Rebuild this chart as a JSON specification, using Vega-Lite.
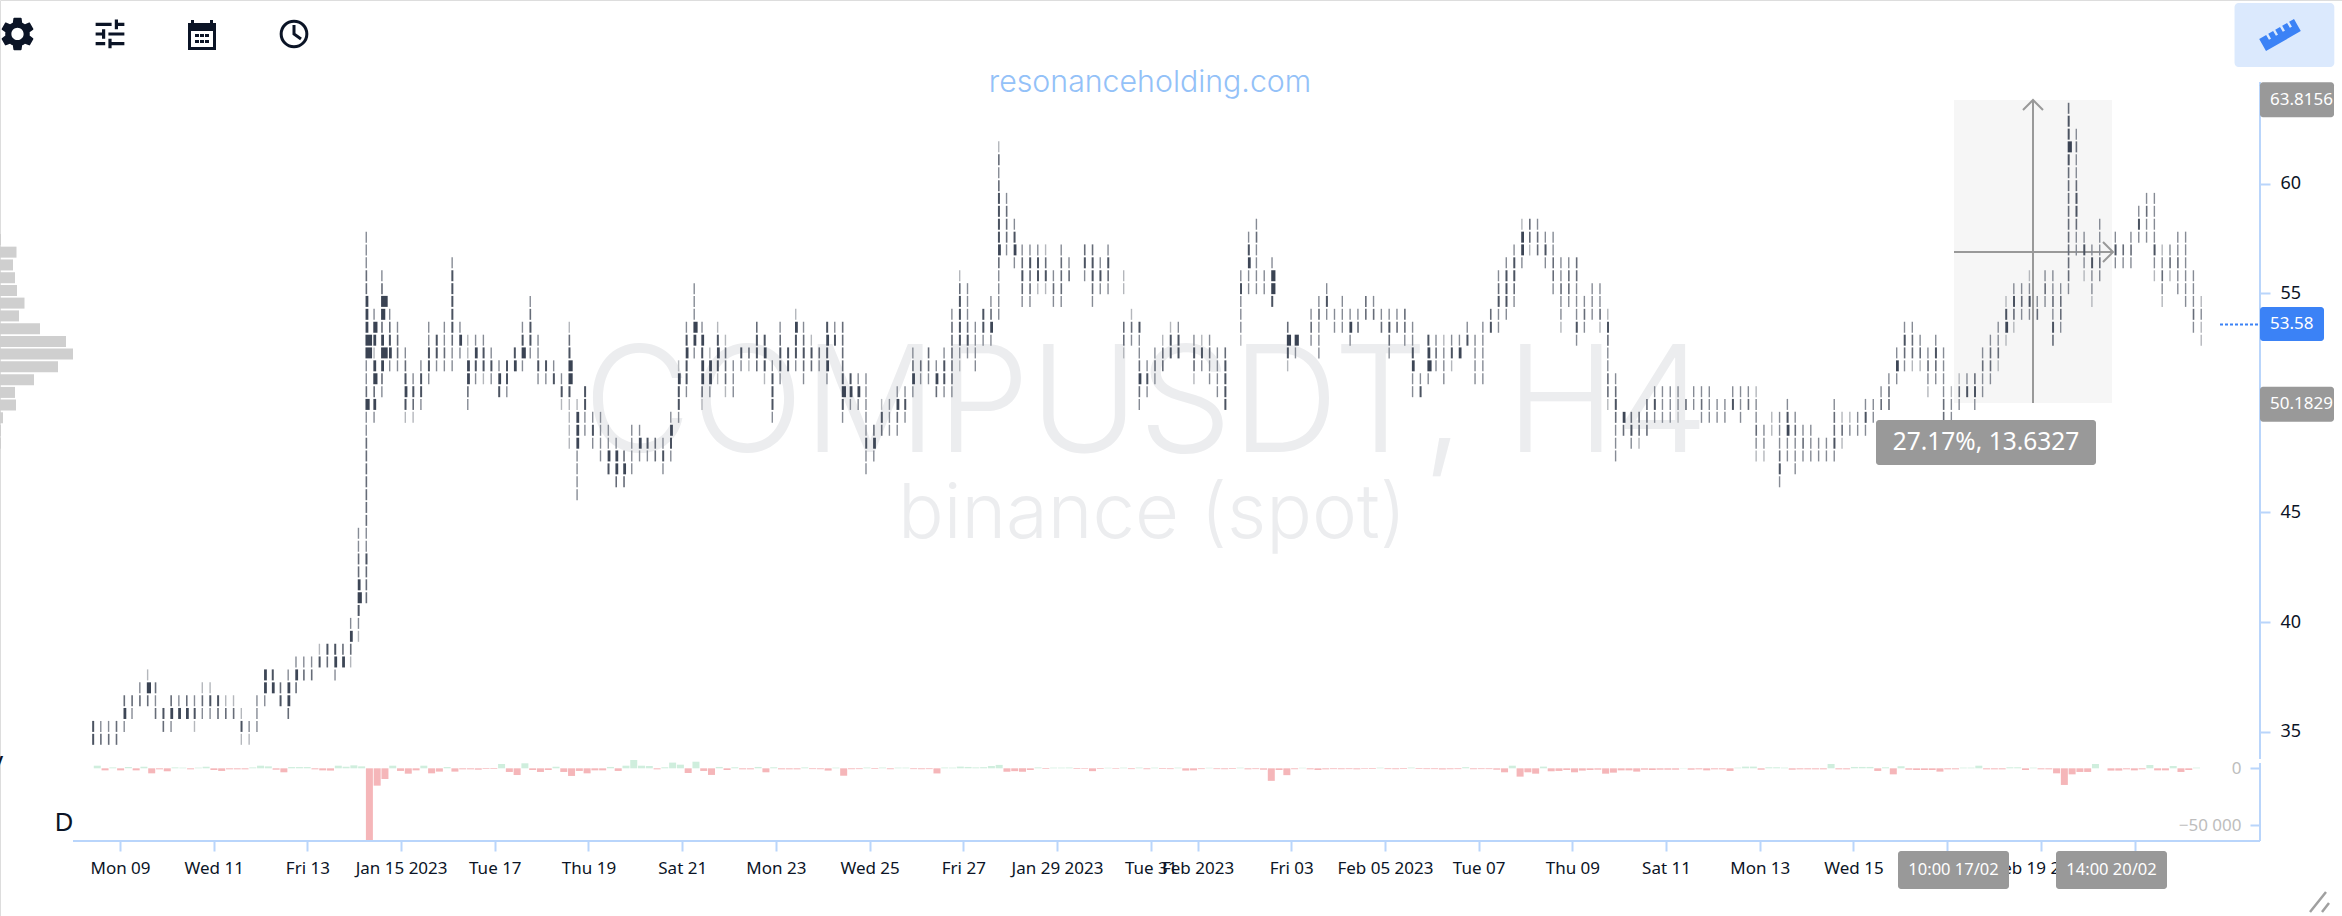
{"$schema":"https://vega.github.io/schema/vega-lite/v6.json","width":2342,"height":916,"autosize":"none","padding":0,"background":"#ffffff",
"datasets":{"candles":[
{"t":"2023-01-08T10:00Z","d":2300,"p":[35.24,34.65],"w":[4,4]},
{"t":"2023-01-08T14:00Z","d":-1800,"p":[35.24,34.65],"w":[2,3]},
{"t":"2023-01-08T18:00Z","d":800,"p":[35.24,34.65],"w":[2,3]},
{"t":"2023-01-08T22:00Z","d":-1800,"p":[35.24,34.65],"w":[3,3]},
{"t":"2023-01-09T02:00Z","d":1100,"p":[36.41,35.83,35.24],"w":[3,5,2]},
{"t":"2023-01-09T06:00Z","d":-1800,"p":[36.41,35.83],"w":[3,2]},
{"t":"2023-01-09T10:00Z","d":1400,"p":[37,36.41],"w":[2,3]},
{"t":"2023-01-09T14:00Z","d":-4400,"p":[37.59,37,36.41],"w":[1,6,3]},
{"t":"2023-01-09T18:00Z","d":-900,"p":[37,36.41,35.83],"w":[3,2,3]},
{"t":"2023-01-09T22:00Z","d":-2600,"p":[35.83,35.24],"w":[4,3]},
{"t":"2023-01-10T02:00Z","d":800,"p":[36.41,35.83,35.24],"w":[3,5,2]},
{"t":"2023-01-10T06:00Z","d":600,"p":[36.41,35.83],"w":[2,5]},
{"t":"2023-01-10T10:00Z","d":-900,"p":[36.41,35.83],"w":[3,5]},
{"t":"2023-01-10T14:00Z","d":600,"p":[36.41,35.83,35.24],"w":[2,4,1]},
{"t":"2023-01-10T18:00Z","d":1400,"p":[37,36.41,35.83],"w":[1,3,2]},
{"t":"2023-01-10T22:00Z","d":-1500,"p":[37,36.41,35.83],"w":[1,4,2]},
{"t":"2023-01-11T02:00Z","d":-2300,"p":[36.41,35.83],"w":[4,3]},
{"t":"2023-01-11T06:00Z","d":-900,"p":[36.41,35.83],"w":[1,3]},
{"t":"2023-01-11T10:00Z","d":-900,"p":[36.41,35.83],"w":[1,3]},
{"t":"2023-01-11T14:00Z","d":-900,"p":[35.83,35.24,34.65],"w":[1,4,1]},
{"t":"2023-01-11T18:00Z","d":800,"p":[35.24,34.65],"w":[2,1]},
{"t":"2023-01-11T22:00Z","d":2300,"p":[36.41,35.83,35.24],"w":[2,2,2]},
{"t":"2023-01-12T02:00Z","d":1700,"p":[37.59,37,36.41],"w":[5,5,2]},
{"t":"2023-01-12T06:00Z","d":-1200,"p":[37.59,37],"w":[4,5]},
{"t":"2023-01-12T10:00Z","d":-3500,"p":[37,36.41],"w":[3,4]},
{"t":"2023-01-12T14:00Z","d":1100,"p":[37.59,37,36.41,35.83],"w":[2,5,5,3]},
{"t":"2023-01-12T18:00Z","d":1100,"p":[38.18,37.59,37],"w":[2,5,3]},
{"t":"2023-01-12T22:00Z","d":1100,"p":[38.18,37.59],"w":[2,3]},
{"t":"2023-01-13T02:00Z","d":-900,"p":[38.18,37.59],"w":[2,3]},
{"t":"2023-01-13T06:00Z","d":-1800,"p":[38.76,38.18],"w":[1,4]},
{"t":"2023-01-13T10:00Z","d":-2000,"p":[38.76,38.18],"w":[4,3]},
{"t":"2023-01-13T14:00Z","d":2300,"p":[38.76,38.18,37.59],"w":[4,5,2]},
{"t":"2023-01-13T18:00Z","d":1400,"p":[38.76,38.18],"w":[3,5]},
{"t":"2023-01-13T22:00Z","d":2600,"p":[39.94,39.35,38.76,38.18],"w":[2,5,3,1]},
{"t":"2023-01-14T02:00Z","d":1700,"p":[44.05,43.46,42.88,42.29,41.7,41.11,40.53,39.94,39.35],"w":[2,2,3,3,5,6,4,2,1]},
{"t":"2023-01-14T06:00Z","d":-63500,"p":[57.56,56.98,56.39,55.8,55.21,54.63,54.04,53.45,52.86,52.28,51.69,51.1,50.51,49.93,49.34,48.75,48.16,47.58,46.99,46.4,45.81,45.23,44.64,44.05,43.46,42.88,42.29,41.7,41.11],"w":[2,2,2,3,3,5,5,5,7,7,2,2,3,6,2,2,3,3,3,3,3,3,3,2,2,4,3,3,3]},
{"t":"2023-01-14T10:00Z","d":-15200,"p":[54.04,53.45,52.86,52.28,51.69,51.1,50.51,49.93,49.34],"w":[2,6,5,1,5,6,3,5,2]},
{"t":"2023-01-14T14:00Z","d":-9400,"p":[55.8,55.21,54.63,54.04,53.45,52.86,52.28,51.69,51.1,50.51],"w":[2,3,7,6,3,5,7,5,3,2]},
{"t":"2023-01-14T18:00Z","d":2300,"p":[54.04,53.45,52.86,52.28,51.69],"w":[2,3,4,5,2]},
{"t":"2023-01-14T22:00Z","d":-2300,"p":[53.45,52.86,52.28,51.69],"w":[2,3,3,2]},
{"t":"2023-01-15T02:00Z","d":-4700,"p":[52.28,51.69,51.1,50.51,49.93,49.34],"w":[2,3,4,5,4,1]},
{"t":"2023-01-15T06:00Z","d":-1800,"p":[51.1,50.51,49.93,49.34],"w":[2,4,3,1]},
{"t":"2023-01-15T10:00Z","d":2300,"p":[51.69,51.1,50.51,49.93],"w":[2,4,4,2]},
{"t":"2023-01-15T14:00Z","d":-4400,"p":[53.45,52.86,52.28,51.69,51.1],"w":[2,2,4,4,2]},
{"t":"2023-01-15T18:00Z","d":-2900,"p":[52.86,52.28,51.69],"w":[4,4,2]},
{"t":"2023-01-15T22:00Z","d":1100,"p":[53.45,52.86,52.28,51.69],"w":[2,2,3,2]},
{"t":"2023-01-16T02:00Z","d":-2900,"p":[56.39,55.8,55.21,54.63,54.04,53.45,52.86,52.28,51.69],"w":[2,4,4,4,4,4,3,2,2]},
{"t":"2023-01-16T06:00Z","d":-900,"p":[53.45,52.86,52.28],"w":[2,5,2]},
{"t":"2023-01-16T10:00Z","d":-900,"p":[52.86,52.28,51.69,51.1,50.51,49.93],"w":[1,1,5,5,3,2]},
{"t":"2023-01-16T14:00Z","d":-1200,"p":[52.86,52.28,51.69,51.1],"w":[2,5,4,2]},
{"t":"2023-01-16T18:00Z","d":-600,"p":[52.86,52.28,51.69,51.1],"w":[2,4,4,1]},
{"t":"2023-01-16T22:00Z","d":-600,"p":[52.28,51.69,51.1],"w":[2,4,2]},
{"t":"2023-01-17T02:00Z","d":3800,"p":[51.69,51.1,50.51],"w":[2,5,4]},
{"t":"2023-01-17T06:00Z","d":-3200,"p":[51.69,51.1,50.51],"w":[4,4,2]},
{"t":"2023-01-17T10:00Z","d":-5900,"p":[52.28,51.69],"w":[4,5]},
{"t":"2023-01-17T14:00Z","d":4400,"p":[53.45,52.86,52.28,51.69],"w":[2,4,6,2]},
{"t":"2023-01-17T18:00Z","d":-1500,"p":[54.63,54.04,53.45,52.86,52.28],"w":[2,3,4,4,2]},
{"t":"2023-01-17T22:00Z","d":-3200,"p":[52.86,52.28,51.69,51.1],"w":[2,2,4,2]},
{"t":"2023-01-18T02:00Z","d":-1500,"p":[51.69,51.1],"w":[4,2]},
{"t":"2023-01-18T06:00Z","d":1400,"p":[51.69,51.1],"w":[2,4]},
{"t":"2023-01-18T10:00Z","d":-3200,"p":[51.1,50.51,49.93],"w":[2,4,1]},
{"t":"2023-01-18T14:00Z","d":-6700,"p":[53.45,52.86,52.28,51.69,51.1,50.51,49.93,49.34,48.75,48.16],"w":[1,3,4,6,6,4,1,1,1,1]},
{"t":"2023-01-18T18:00Z","d":-2300,"p":[49.93,49.34,48.75,48.16,47.58,46.99,46.4,45.81],"w":[1,5,5,5,2,2,2,2]},
{"t":"2023-01-18T22:00Z","d":-4400,"p":[50.51,49.93,49.34,48.75],"w":[4,4,2,2]},
{"t":"2023-01-19T02:00Z","d":-1800,"p":[49.34,48.75,48.16],"w":[2,4,2]},
{"t":"2023-01-19T06:00Z","d":-1800,"p":[49.34,48.75,48.16,47.58],"w":[2,2,2,2]},
{"t":"2023-01-19T10:00Z","d":1200,"p":[48.75,48.16,47.58,46.99],"w":[2,2,5,4]},
{"t":"2023-01-19T14:00Z","d":-2300,"p":[48.16,47.58,46.99,46.4],"w":[2,5,5,3]},
{"t":"2023-01-19T18:00Z","d":2300,"p":[47.58,46.99,46.4],"w":[3,5,3]},
{"t":"2023-01-19T22:00Z","d":7300,"p":[48.75,48.16,47.58,46.99],"w":[2,2,2,2]},
{"t":"2023-01-20T02:00Z","d":2300,"p":[48.75,48.16,47.58],"w":[2,5,2]},
{"t":"2023-01-20T06:00Z","d":2000,"p":[48.16,47.58],"w":[4,2]},
{"t":"2023-01-20T10:00Z","d":-900,"p":[48.16,47.58],"w":[3,3]},
{"t":"2023-01-20T14:00Z","d":900,"p":[48.16,47.58,46.99],"w":[2,4,2]},
{"t":"2023-01-20T18:00Z","d":5000,"p":[49.34,48.75,48.16,47.58],"w":[2,5,4,2]},
{"t":"2023-01-20T22:00Z","d":3200,"p":[51.69,51.1,50.51,49.93,49.34],"w":[1,5,4,4,2]},
{"t":"2023-01-21T02:00Z","d":-4100,"p":[53.45,52.86,52.28,51.69,51.1,50.51],"w":[2,4,5,4,4,2]},
{"t":"2023-01-21T06:00Z","d":5800,"p":[55.21,54.63,54.04,53.45,52.86,52.28],"w":[2,2,2,6,5,2]},
{"t":"2023-01-21T10:00Z","d":-2300,"p":[53.45,52.86,52.28,51.69,51.1,50.51,49.93],"w":[2,5,4,5,5,3,1]},
{"t":"2023-01-21T14:00Z","d":-5800,"p":[52.28,51.69,51.1,50.51],"w":[1,5,5,2]},
{"t":"2023-01-21T18:00Z","d":1200,"p":[53.45,52.86,52.28,51.69,51.1],"w":[1,4,5,4,1]},
{"t":"2023-01-21T22:00Z","d":-1500,"p":[52.86,52.28,51.69,51.1,50.51],"w":[1,3,3,3,1]},
{"t":"2023-01-22T02:00Z","d":900,"p":[51.69,51.1,50.51],"w":[2,2,2]},
{"t":"2023-01-22T06:00Z","d":-900,"p":[52.28,51.69],"w":[4,2]},
{"t":"2023-01-22T10:00Z","d":-900,"p":[52.28,51.69],"w":[3,1]},
{"t":"2023-01-22T14:00Z","d":1200,"p":[53.45,52.86,52.28,51.69],"w":[3,4,4,3]},
{"t":"2023-01-22T18:00Z","d":-3500,"p":[52.86,52.28,51.69,51.1],"w":[4,5,4,1]},
{"t":"2023-01-22T22:00Z","d":900,"p":[51.69,51.1,50.51,49.93,49.34],"w":[2,4,4,4,2]},
{"t":"2023-01-23T02:00Z","d":-900,"p":[53.45,52.86,52.28,51.69,51.1],"w":[2,3,4,4,2]},
{"t":"2023-01-23T06:00Z","d":-900,"p":[52.28,51.69],"w":[4,4]},
{"t":"2023-01-23T10:00Z","d":-900,"p":[54.04,53.45,52.86,52.28,51.69],"w":[1,5,4,4,2]},
{"t":"2023-01-23T14:00Z","d":800,"p":[53.45,52.86,52.28,51.69,51.1],"w":[2,3,4,3,2]},
{"t":"2023-01-23T18:00Z","d":-700,"p":[52.86,52.28,51.69],"w":[1,4,3]},
{"t":"2023-01-23T22:00Z","d":-800,"p":[52.28,51.69],"w":[3,2]},
{"t":"2023-01-24T02:00Z","d":-2000,"p":[53.45,52.86,52.28,51.69,51.1],"w":[4,5,4,5,2]},
{"t":"2023-01-24T06:00Z","d":600,"p":[53.45,52.86],"w":[2,4]},
{"t":"2023-01-24T10:00Z","d":-6500,"p":[53.45,52.86,52.28,51.69,51.1,50.51,49.93,49.34],"w":[3,3,3,3,4,6,4,2]},
{"t":"2023-01-24T14:00Z","d":-800,"p":[51.1,50.51,49.93],"w":[4,5,2]},
{"t":"2023-01-24T18:00Z","d":-700,"p":[51.1,50.51,49.93],"w":[2,5,2]},
{"t":"2023-01-24T22:00Z","d":700,"p":[51.1,50.51,49.93,49.34,48.75,48.16,47.58,46.99],"w":[2,2,2,2,2,4,2,2]},
{"t":"2023-01-25T02:00Z","d":-600,"p":[48.75,48.16,47.58],"w":[3,5,2]},
{"t":"2023-01-25T06:00Z","d":700,"p":[49.93,49.34,48.75],"w":[1,4,3]},
{"t":"2023-01-25T10:00Z","d":-800,"p":[49.93,49.34,48.75],"w":[2,2,2]},
{"t":"2023-01-25T14:00Z","d":600,"p":[50.51,49.93,49.34,48.75],"w":[2,5,3,2]},
{"t":"2023-01-25T18:00Z","d":600,"p":[50.51,49.93,49.34],"w":[2,4,2]},
{"t":"2023-01-25T22:00Z","d":-700,"p":[52.28,51.69,51.1,50.51],"w":[2,3,5,2]},
{"t":"2023-01-26T02:00Z","d":-800,"p":[51.69,51.1],"w":[3,2]},
{"t":"2023-01-26T06:00Z","d":-700,"p":[52.28,51.69,51.1],"w":[3,3,2]},
{"t":"2023-01-26T10:00Z","d":-4500,"p":[51.69,51.1,50.51],"w":[2,5,3]},
{"t":"2023-01-26T14:00Z","d":700,"p":[52.28,51.69,51.1,50.51],"w":[2,4,4,2]},
{"t":"2023-01-26T18:00Z","d":600,"p":[54.04,53.45,52.86,52.28,51.69,51.1,50.51],"w":[2,3,3,3,3,3,2]},
{"t":"2023-01-26T22:00Z","d":1500,"p":[55.8,55.21,54.63,54.04,53.45,52.86,52.28,51.69],"w":[1,3,4,4,4,4,2,1]},
{"t":"2023-01-27T02:00Z","d":1200,"p":[55.21,54.63,54.04,53.45,52.86,52.28],"w":[2,2,2,3,4,2]},
{"t":"2023-01-27T06:00Z","d":800,"p":[53.45,52.86,52.28,51.69],"w":[2,2,2,2]},
{"t":"2023-01-27T10:00Z","d":1000,"p":[54.04,53.45,52.86],"w":[4,4,2]},
{"t":"2023-01-27T14:00Z","d":2000,"p":[54.63,54.04,53.45,52.86],"w":[2,3,5,2]},
{"t":"2023-01-27T18:00Z","d":3000,"p":[61.68,61.09,60.5,59.91,59.33,58.74,58.15,57.56,56.98,56.39,55.8,55.21,54.63,54.04],"w":[1,3,2,3,4,4,4,4,5,3,2,2,2,2]},
{"t":"2023-01-27T22:00Z","d":-3000,"p":[59.33,58.74,58.15,57.56,56.98],"w":[2,3,3,3,2]},
{"t":"2023-01-28T02:00Z","d":-2500,"p":[58.15,57.56,56.98,56.39],"w":[2,4,5,2]},
{"t":"2023-01-28T06:00Z","d":-3000,"p":[56.98,56.39,55.8,55.21,54.63],"w":[2,3,4,3,2]},
{"t":"2023-01-28T10:00Z","d":-1500,"p":[56.98,56.39,55.8,55.21,54.63],"w":[2,4,3,3,2]},
{"t":"2023-01-28T14:00Z","d":800,"p":[56.98,56.39,55.8,55.21],"w":[2,4,4,1]},
{"t":"2023-01-28T18:00Z","d":-600,"p":[56.98,56.39,55.8,55.21],"w":[1,3,4,1]},
{"t":"2023-01-28T22:00Z","d":600,"p":[55.8,55.21,54.63],"w":[2,3,2]},
{"t":"2023-01-29T02:00Z","d":600,"p":[56.98,56.39,55.8,55.21,54.63],"w":[2,3,3,3,2]},
{"t":"2023-01-29T06:00Z","d":700,"p":[56.39,55.8],"w":[2,3]},
{"t":"2023-01-29T10:00Z","d":-600,"p":[],"w":[]},
{"t":"2023-01-29T14:00Z","d":-500,"p":[56.98,56.39,55.8],"w":[3,4,2]},
{"t":"2023-01-29T18:00Z","d":-2500,"p":[56.98,56.39,55.8,55.21,54.63],"w":[3,4,4,3,2]},
{"t":"2023-01-29T22:00Z","d":-600,"p":[56.39,55.8,55.21],"w":[2,4,2]},
{"t":"2023-01-30T02:00Z","d":500,"p":[56.98,56.39,55.8,55.21],"w":[2,4,3,2]},
{"t":"2023-01-30T06:00Z","d":-500,"p":[],"w":[]},
{"t":"2023-01-30T10:00Z","d":600,"p":[55.8,55.21,53.45,52.86,52.28],"w":[1,1,3,3,1]},
{"t":"2023-01-30T14:00Z","d":-700,"p":[54.04,53.45,52.86],"w":[1,3,2]},
{"t":"2023-01-30T18:00Z","d":700,"p":[53.45,52.86,52.28,51.69,51.1,50.51,49.93],"w":[4,2,2,3,5,3,2]},
{"t":"2023-01-30T22:00Z","d":-800,"p":[51.69,51.1,50.51],"w":[2,4,2]},
{"t":"2023-01-31T02:00Z","d":600,"p":[52.28,51.69,51.1],"w":[2,3,2]},
{"t":"2023-01-31T06:00Z","d":-600,"p":[52.86,52.28,51.69],"w":[1,3,3]},
{"t":"2023-01-31T10:00Z","d":-700,"p":[53.45,52.86,52.28],"w":[1,4,4]},
{"t":"2023-01-31T14:00Z","d":600,"p":[53.45,52.86,52.28],"w":[2,4,4]},
{"t":"2023-01-31T18:00Z","d":-2000,"p":[],"w":[]},
{"t":"2023-01-31T22:00Z","d":-1800,"p":[52.86,52.28,51.69,51.1],"w":[2,4,3,1]},
{"t":"2023-02-01T02:00Z","d":-700,"p":[52.86,52.28,51.69],"w":[1,4,2]},
{"t":"2023-02-01T06:00Z","d":500,"p":[52.86,52.28,51.69,51.1],"w":[2,3,2,2]},
{"t":"2023-02-01T10:00Z","d":-700,"p":[52.28,51.69,51.1,50.51],"w":[2,2,2,2]},
{"t":"2023-02-01T14:00Z","d":-800,"p":[52.28,51.69,51.1,50.51,49.93],"w":[3,4,4,4,4]},
{"t":"2023-02-01T18:00Z","d":-600,"p":[],"w":[]},
{"t":"2023-02-01T22:00Z","d":600,"p":[55.8,55.21,54.63,54.04,53.45,52.86],"w":[2,4,2,2,2,1]},
{"t":"2023-02-02T02:00Z","d":-900,"p":[57.56,56.98,56.39,55.8,55.21],"w":[2,4,5,2,2]},
{"t":"2023-02-02T06:00Z","d":-700,"p":[58.15,57.56,56.98,56.39,55.8,55.21],"w":[2,3,2,2,2,2]},
{"t":"2023-02-02T10:00Z","d":-1200,"p":[55.8,55.21],"w":[2,2]},
{"t":"2023-02-02T14:00Z","d":-11000,"p":[56.39,55.8,55.21,54.63],"w":[2,6,6,4]},
{"t":"2023-02-02T18:00Z","d":-1500,"p":[],"w":[]},
{"t":"2023-02-02T22:00Z","d":-6000,"p":[53.45,52.86,52.28,51.69],"w":[3,6,4,1]},
{"t":"2023-02-03T02:00Z","d":-800,"p":[52.86,52.28],"w":[6,2]},
{"t":"2023-02-03T06:00Z","d":500,"p":[],"w":[]},
{"t":"2023-02-03T10:00Z","d":-900,"p":[54.04,53.45,52.86],"w":[2,3,2]},
{"t":"2023-02-03T14:00Z","d":-1500,"p":[54.63,54.04,53.45,52.86,52.28],"w":[2,3,2,2,2]},
{"t":"2023-02-03T18:00Z","d":-900,"p":[55.21,54.63,54.04],"w":[2,4,2]},
{"t":"2023-02-03T22:00Z","d":-700,"p":[54.04,53.45],"w":[2,2]},
{"t":"2023-02-04T02:00Z","d":-800,"p":[54.63,54.04,53.45],"w":[2,2,2]},
{"t":"2023-02-04T06:00Z","d":-700,"p":[54.04,53.45,52.86],"w":[2,5,2]},
{"t":"2023-02-04T10:00Z","d":-900,"p":[54.04,53.45],"w":[2,3]},
{"t":"2023-02-04T14:00Z","d":-500,"p":[54.63,54.04],"w":[3,3]},
{"t":"2023-02-04T18:00Z","d":-600,"p":[54.63,54.04],"w":[2,3]},
{"t":"2023-02-04T22:00Z","d":600,"p":[54.04,53.45],"w":[2,3]},
{"t":"2023-02-05T02:00Z","d":-700,"p":[54.04,53.45,52.86,52.28],"w":[2,4,3,2]},
{"t":"2023-02-05T06:00Z","d":-800,"p":[54.04,53.45],"w":[2,3]},
{"t":"2023-02-05T10:00Z","d":-600,"p":[54.04,53.45,52.86],"w":[3,3,2]},
{"t":"2023-02-05T14:00Z","d":700,"p":[53.45,52.86,52.28,51.69,51.1,50.51],"w":[2,2,4,5,2,2]},
{"t":"2023-02-05T18:00Z","d":-600,"p":[51.1,50.51],"w":[2,4]},
{"t":"2023-02-05T22:00Z","d":-700,"p":[52.86,52.28,51.69,51.1],"w":[4,5,6,2]},
{"t":"2023-02-06T02:00Z","d":-700,"p":[52.86,52.28,51.69],"w":[2,3,2]},
{"t":"2023-02-06T06:00Z","d":-1000,"p":[52.86,52.28,51.69,51.1],"w":[1,2,2,2]},
{"t":"2023-02-06T10:00Z","d":-800,"p":[52.86,52.28,51.69],"w":[2,4,1]},
{"t":"2023-02-06T14:00Z","d":-700,"p":[52.86,52.28],"w":[2,5]},
{"t":"2023-02-06T18:00Z","d":1000,"p":[53.45,52.86],"w":[2,4]},
{"t":"2023-02-06T22:00Z","d":-800,"p":[52.86,52.28,51.69,51.1],"w":[2,2,2,2]},
{"t":"2023-02-07T02:00Z","d":-700,"p":[53.45,52.86,52.28,51.69,51.1],"w":[2,2,2,2,2]},
{"t":"2023-02-07T06:00Z","d":-700,"p":[54.04,53.45],"w":[3,4]},
{"t":"2023-02-07T10:00Z","d":-1200,"p":[55.8,55.21,54.63,54.04,53.45],"w":[2,3,4,2,2]},
{"t":"2023-02-07T14:00Z","d":-3500,"p":[56.39,55.8,55.21,54.63,54.04],"w":[2,4,4,4,2]},
{"t":"2023-02-07T18:00Z","d":2300,"p":[56.98,56.39,55.8,55.21,54.63],"w":[2,4,4,3,2]},
{"t":"2023-02-07T22:00Z","d":-7300,"p":[58.15,57.56,56.98,56.39],"w":[1,5,5,2]},
{"t":"2023-02-08T02:00Z","d":-3500,"p":[58.15,57.56,56.98],"w":[3,3,1]},
{"t":"2023-02-08T06:00Z","d":-4700,"p":[58.15,57.56,56.98],"w":[2,3,3]},
{"t":"2023-02-08T10:00Z","d":1500,"p":[57.56,56.98,56.39],"w":[2,4,2]},
{"t":"2023-02-08T14:00Z","d":-2600,"p":[57.56,56.98,56.39,55.8,55.21],"w":[2,2,3,3,2]},
{"t":"2023-02-08T18:00Z","d":-2300,"p":[56.39,55.8,55.21,54.63,54.04,53.45],"w":[2,2,3,2,2,1]},
{"t":"2023-02-08T22:00Z","d":-1500,"p":[56.39,55.8,55.21,54.63],"w":[2,3,3,2]},
{"t":"2023-02-09T02:00Z","d":-3500,"p":[56.39,55.8,55.21,54.63,54.04,53.45,52.86],"w":[3,3,2,2,2,4,2]},
{"t":"2023-02-09T06:00Z","d":-2000,"p":[54.63,54.04,53.45],"w":[2,3,2]},
{"t":"2023-02-09T10:00Z","d":-1500,"p":[55.21,54.63,54.04],"w":[2,2,2]},
{"t":"2023-02-09T14:00Z","d":-1200,"p":[55.21,54.63,54.04,53.45],"w":[2,2,3,1]},
{"t":"2023-02-09T18:00Z","d":-4700,"p":[54.04,53.45,52.86,52.28,51.69,51.1,50.51,49.93],"w":[1,4,3,2,2,3,3,1]},
{"t":"2023-02-09T22:00Z","d":-3800,"p":[51.1,50.51,49.93,49.34,48.75,48.16,47.58],"w":[2,3,4,3,2,2,2]},
{"t":"2023-02-10T02:00Z","d":-1800,"p":[49.34,48.75],"w":[5,3]},
{"t":"2023-02-10T06:00Z","d":-1800,"p":[49.34,48.75,48.16],"w":[3,4,2]},
{"t":"2023-02-10T10:00Z","d":-2900,"p":[49.34,48.75,48.16],"w":[3,3,1]},
{"t":"2023-02-10T14:00Z","d":-1200,"p":[49.93,49.34,48.75],"w":[3,3,3]},
{"t":"2023-02-10T18:00Z","d":-1500,"p":[50.51,49.93,49.34],"w":[2,4,2]},
{"t":"2023-02-10T22:00Z","d":-1200,"p":[50.51,49.93,49.34],"w":[2,2,2]},
{"t":"2023-02-11T02:00Z","d":-1200,"p":[50.51,49.93,49.34],"w":[2,2,2]},
{"t":"2023-02-11T06:00Z","d":-1200,"p":[50.51,49.93,49.34],"w":[2,2,1]},
{"t":"2023-02-11T10:00Z","d":300,"p":[49.93],"w":[3]},
{"t":"2023-02-11T14:00Z","d":-1200,"p":[50.51,49.93],"w":[2,2]},
{"t":"2023-02-11T18:00Z","d":-900,"p":[50.51,49.93,49.34],"w":[2,3,2]},
{"t":"2023-02-11T22:00Z","d":-1800,"p":[50.51,49.93,49.34],"w":[2,2,2]},
{"t":"2023-02-12T02:00Z","d":-900,"p":[49.93,49.34],"w":[2,2]},
{"t":"2023-02-12T06:00Z","d":-900,"p":[49.93,49.34],"w":[2,2]},
{"t":"2023-02-12T10:00Z","d":-2300,"p":[50.51,49.93],"w":[2,4]},
{"t":"2023-02-12T14:00Z","d":600,"p":[50.51,49.93,49.34],"w":[2,2,2]},
{"t":"2023-02-12T18:00Z","d":1500,"p":[50.51,49.93],"w":[2,3]},
{"t":"2023-02-12T22:00Z","d":1500,"p":[50.51,49.93,49.34,48.75,48.16,47.58],"w":[1,2,2,3,2,1]},
{"t":"2023-02-13T02:00Z","d":-1200,"p":[48.75,48.16,47.58],"w":[2,2,1]},
{"t":"2023-02-13T06:00Z","d":900,"p":[49.34,48.75],"w":[1,1]},
{"t":"2023-02-13T10:00Z","d":900,"p":[49.34,48.75,48.16,47.58,46.99,46.4],"w":[2,2,2,3,4,2]},
{"t":"2023-02-13T14:00Z","d":600,"p":[49.93,49.34,48.75,48.16,47.58],"w":[2,4,5,2,2]},
{"t":"2023-02-13T18:00Z","d":-1200,"p":[49.34,48.75,48.16,47.58,46.99],"w":[2,3,2,2,2]},
{"t":"2023-02-13T22:00Z","d":-900,"p":[48.75,48.16,47.58],"w":[2,3,2]},
{"t":"2023-02-14T02:00Z","d":-900,"p":[48.75,48.16,47.58],"w":[2,2,2]},
{"t":"2023-02-14T06:00Z","d":-900,"p":[48.16,47.58],"w":[2,2]},
{"t":"2023-02-14T10:00Z","d":-900,"p":[48.16,47.58],"w":[2,2]},
{"t":"2023-02-14T14:00Z","d":3800,"p":[49.93,49.34,48.75,48.16,47.58],"w":[2,3,3,4,2]},
{"t":"2023-02-14T18:00Z","d":-900,"p":[49.34,48.75,48.16],"w":[1,3,1]},
{"t":"2023-02-14T22:00Z","d":-900,"p":[49.34,48.75],"w":[1,2]},
{"t":"2023-02-15T02:00Z","d":1200,"p":[49.34,48.75],"w":[2,2]},
{"t":"2023-02-15T06:00Z","d":1200,"p":[49.93,49.34,48.75],"w":[2,4,2]},
{"t":"2023-02-15T10:00Z","d":1200,"p":[49.93,49.34],"w":[2,2]},
{"t":"2023-02-15T14:00Z","d":-2300,"p":[50.51,49.93],"w":[2,3]},
{"t":"2023-02-15T18:00Z","d":900,"p":[51.1,50.51,49.93],"w":[2,3,3]},
{"t":"2023-02-15T22:00Z","d":-5300,"p":[52.28,51.69,51.1],"w":[2,5,2]},
{"t":"2023-02-16T02:00Z","d":1800,"p":[53.45,52.86,52.28,51.69],"w":[2,4,3,2]},
{"t":"2023-02-16T06:00Z","d":-1200,"p":[53.45,52.86,52.28,51.69],"w":[2,3,3,1]},
{"t":"2023-02-16T10:00Z","d":-1500,"p":[52.86,52.28,51.69],"w":[2,3,1]},
{"t":"2023-02-16T14:00Z","d":-1500,"p":[52.28,51.69,51.1,50.51],"w":[2,3,2,1]},
{"t":"2023-02-16T18:00Z","d":-1500,"p":[52.86,52.28,51.69,51.1],"w":[2,4,3,2]},
{"t":"2023-02-16T22:00Z","d":-2900,"p":[52.28,51.69,51.1,50.51,49.93,49.34],"w":[2,2,2,2,3,3]},
{"t":"2023-02-17T02:00Z","d":-900,"p":[50.51,49.93,49.34],"w":[1,2,2]},
{"t":"2023-02-17T06:00Z","d":-900,"p":[51.1,50.51,49.93],"w":[1,3,2]},
{"t":"2023-02-17T10:00Z","d":600,"p":[51.1,50.51],"w":[2,4]},
{"t":"2023-02-17T14:00Z","d":600,"p":[51.1,50.51,49.93],"w":[3,4,2]},
{"t":"2023-02-17T18:00Z","d":2300,"p":[52.28,51.69,51.1,50.51],"w":[2,3,2,2]},
{"t":"2023-02-17T22:00Z","d":-900,"p":[52.86,52.28,51.69,51.1],"w":[2,3,3,2]},
{"t":"2023-02-18T02:00Z","d":-900,"p":[53.45,52.86,52.28,51.69],"w":[2,2,3,1]},
{"t":"2023-02-18T06:00Z","d":-900,"p":[54.63,54.04,53.45,52.86],"w":[1,4,5,1]},
{"t":"2023-02-18T10:00Z","d":900,"p":[55.21,54.63,54.04,53.45],"w":[2,4,3,1]},
{"t":"2023-02-18T14:00Z","d":900,"p":[55.21,54.63,54.04],"w":[2,3,2]},
{"t":"2023-02-18T18:00Z","d":-1500,"p":[55.8,55.21,54.63,54.04],"w":[1,2,4,2]},
{"t":"2023-02-18T22:00Z","d":600,"p":[54.63,54.04],"w":[2,3]},
{"t":"2023-02-19T02:00Z","d":-900,"p":[55.8,55.21,54.63],"w":[2,3,2]},
{"t":"2023-02-19T06:00Z","d":-900,"p":[55.8,55.21,54.63,54.04,53.45,52.86],"w":[2,2,3,2,4,3]},
{"t":"2023-02-19T10:00Z","d":-4400,"p":[55.21,54.63,54.04,53.45],"w":[2,3,3,2]},
{"t":"2023-02-19T14:00Z","d":-14600,"p":[63.44,62.85,62.26,61.68,61.09,60.5,59.91,59.33,58.74,58.15,57.56,56.98,56.39,55.8,55.21],"w":[3,4,4,6,4,3,3,3,3,3,3,3,3,3,2]},
{"t":"2023-02-19T18:00Z","d":-5300,"p":[62.26,61.68,61.09,60.5,59.91,59.33,58.74,58.15,57.56,56.98],"w":[2,3,2,2,3,4,4,3,2,2]},
{"t":"2023-02-19T22:00Z","d":-3200,"p":[57.56,56.98,56.39,55.8],"w":[2,4,2,1]},
{"t":"2023-02-20T02:00Z","d":-3200,"p":[56.98,56.39,55.8,55.21,54.63],"w":[2,4,2,2,1]},
{"t":"2023-02-20T06:00Z","d":3800,"p":[58.15,57.56,56.98,56.39,55.8],"w":[2,2,2,3,2]},
{"t":"2023-02-20T10:00Z","d":0,"p":[],"w":[]},
{"t":"2023-02-20T14:00Z","d":-2000,"p":[57.56,56.98,56.39],"w":[2,4,2]},
{"t":"2023-02-20T18:00Z","d":-2000,"p":[56.98,56.39],"w":[3,2]},
{"t":"2023-02-20T22:00Z","d":-900,"p":[57.56,56.98,56.39],"w":[2,3,2]},
{"t":"2023-02-21T02:00Z","d":-1800,"p":[58.74,58.15,57.56],"w":[2,4,2]},
{"t":"2023-02-21T06:00Z","d":-900,"p":[59.33,58.74,58.15,57.56],"w":[2,3,2,2]},
{"t":"2023-02-21T10:00Z","d":2900,"p":[59.33,58.74,58.15,57.56,56.98,56.39,55.8],"w":[2,2,2,2,4,2,1]},
{"t":"2023-02-21T14:00Z","d":-1800,"p":[56.98,56.39,55.8,55.21,54.63],"w":[1,2,3,2,1]},
{"t":"2023-02-21T18:00Z","d":-1800,"p":[56.98,56.39,55.8],"w":[2,3,1]},
{"t":"2023-02-21T22:00Z","d":2000,"p":[57.56,56.98,56.39,55.8,55.21],"w":[2,2,3,2,2]},
{"t":"2023-02-22T02:00Z","d":-3200,"p":[57.56,56.98,56.39,55.8,55.21,54.63],"w":[2,2,2,2,2,2]},
{"t":"2023-02-22T06:00Z","d":-1500,"p":[55.8,55.21,54.63,54.04,53.45],"w":[2,2,2,3,2]},
{"t":"2023-02-22T10:00Z","d":600,"p":[54.63,54.04,53.45,52.86],"w":[1,2,1,1]}
]},
"data":{"name":"candles"},
"layer":[
{"mark":{"type":"bar","size":7},
"encoding":{"x":{"field":"t","type":"temporal","scale":{"type":"utc","domain":[1673001097920,1677320176848]},"axis":null},
"y":{"field":"d","type":"quantitative","scale":{"domain":[-129561,674000],"nice":false,"zero":false},
"axis":{"orient":"left","offset":-2260,"title":null,"grid":false,"domain":false,"values":[0,-50000],"labelExpr":"datum.value==0?'0':'−50 000'","labelColor":"#bdbdbd","labelFont":"Noto Sans","labelFontSize":17,"tickColor":"#b9d5fb","tickWidth":2,"tickSize":10,"labelPadding":9}},
"color":{"condition":{"test":"datum.d<0","value":"#f5b6b9"},"value":"#cfeedd"}}},
{"data":{"values":[{"v":1,"p":57.56},{"v":16.5,"p":56.98},{"v":13,"p":56.39},{"v":15,"p":55.8},{"v":17,"p":55.21},{"v":24.5,"p":54.63},{"v":19,"p":54.04},{"v":40,"p":53.45},{"v":66,"p":52.86},{"v":73,"p":52.28},{"v":58,"p":51.69},{"v":34,"p":51.1},{"v":15,"p":50.51},{"v":16,"p":49.93},{"v":3,"p":49.34},{"v":1,"p":48.75},{"v":1,"p":48.16}]},
"mark":{"type":"bar","orient":"horizontal","size":11,"color":"#cfcfcf"},
"encoding":{"x":{"field":"v","type":"quantitative","scale":{"domain":[0,2342],"nice":false,"zero":false},"axis":null},
"y":{"field":"p","type":"quantitative","scale":{"domain":[26.59,68.38],"nice":false,"zero":false},"axis":null}}},
{"encoding":{"x":{"field":"t","type":"temporal","scale":{"type":"utc","domain":[1673001097920,1677320176848]},
"axis":{"orient":"bottom","offset":-75,"title":null,"grid":false,"domain":false,"values":[1673222400000,1673395200000,1673568000000,1673740800000,1673913600000,1674086400000,1674259200000,1674432000000,1674604800000,1674777600000,1674950400000,1675123200000,1675209600000,1675382400000,1675555200000,1675728000000,1675900800000,1676073600000,1676246400000,1676419200000,1676592000000,1676764800000,1676937600000],
"labelExpr":"time(datum.value)==1673740800000?'Jan 15 2023':time(datum.value)==1674950400000?'Jan 29 2023':time(datum.value)==1675209600000?'Feb 2023':time(datum.value)==1675555200000?'Feb 05 2023':time(datum.value)==1676764800000?'Feb 19 2023':utcFormat(datum.value,'%a %d')",
"labelOverlap":false,"labelBound":false,"labelFlush":false,"labelFont":"Noto Sans","labelFontSize":17,"labelColor":"#0b1426","tickColor":"#b9d5fb","tickWidth":2,"tickSize":10,"labelPadding":9}},
"y":{"field":"p","type":"quantitative","scale":{"domain":[26.59,68.38],"nice":false,"zero":false},
"axis":{"orient":"right","offset":-82,"title":null,"grid":false,"domain":false,"values":[35,40,45,50,55,60],"labelFont":"Noto Sans","labelFontSize":18,"labelColor":"#0b1426","tickColor":"#b9d5fb","tickWidth":2,"tickSize":10,"labelPadding":10}}},
"layer":[
{"data":{"values":[{"t":1675114532784,"p":47.76,"s":"COMPUSDT, H4"}]},"mark":{"type":"text","font":"Inter","fontWeight":300,"fontSize":148,"color":"#ecedef","align":"center","baseline":"alphabetic"},"encoding":{"text":{"field":"s"}}},
{"data":{"values":[{"t":1675125597888,"p":43.84,"s":"binance (spot)"}]},"mark":{"type":"text","font":"Inter","fontWeight":300,"fontSize":76,"color":"#ecedef","align":"center","baseline":"alphabetic"},"encoding":{"text":{"field":"s"}}},
{"data":{"values":[{"t":1675121909520,"p":64.59,"s":"resonanceholding.com"}]},"mark":{"type":"text","font":"Inter","fontWeight":300,"fontSize":30.3,"color":"#93c1f8","align":"center","baseline":"middle"},"encoding":{"text":{"field":"s"}}},
{"data":{"values":[{"t":1676604633456,"t2":1676896014528,"p":63.82,"p2":49.99}]},"mark":{"type":"rect","color":"#f6f6f6"},"encoding":{"x2":{"field":"t2"},"y2":{"field":"p2"}}},
{"data":{"values":[{"t":1676750323992,"p":63.82,"p2":49.99}]},"mark":{"type":"rule","color":"#999999","strokeWidth":2},"encoding":{"y2":{"field":"p2"}}},
{"data":{"values":[{"t":1676604633456,"t2":1676896014528,"p":56.88}]},"mark":{"type":"rule","color":"#999999","strokeWidth":2},"encoding":{"x2":{"field":"t2"}}},
{"transform":[{"flatten":["p","w"]},{"filter":"datum.w==1"}],"mark":{"type":"tick","orient":"vertical","thickness":1.4,"size":11,"color":"#b4b7bc","opacity":1,"xOffset":0.3}},
{"transform":[{"flatten":["p","w"]},{"filter":"datum.w==2"}],"mark":{"type":"tick","orient":"vertical","thickness":1.4,"size":11,"color":"#868b95","opacity":1,"xOffset":0.3}},
{"transform":[{"flatten":["p","w"]},{"filter":"datum.w==3"}],"mark":{"type":"tick","orient":"vertical","thickness":1.6,"size":11,"color":"#666c78","opacity":1,"xOffset":0.4}},
{"transform":[{"flatten":["p","w"]},{"filter":"datum.w==4"}],"mark":{"type":"tick","orient":"vertical","thickness":2,"size":11,"color":"#4b5361","opacity":1,"xOffset":0.5}},
{"transform":[{"flatten":["p","w"]},{"filter":"datum.w==5"}],"mark":{"type":"tick","orient":"vertical","thickness":2.8,"size":11,"color":"#3d4656","opacity":1,"xOffset":1}},
{"transform":[{"flatten":["p","w"]},{"filter":"datum.w==6"}],"mark":{"type":"tick","orient":"vertical","thickness":4.2,"size":11,"color":"#3a4353","opacity":1,"xOffset":1.6}},
{"transform":[{"flatten":["p","w"]},{"filter":"datum.w==7"}],"mark":{"type":"tick","orient":"vertical","thickness":6.6,"size":11,"color":"#3a4353","opacity":1,"xOffset":2.8}},
{"data":{"values":[{"t":1676750323992,"p":63.82}]},"mark":{"type":"point","shape":"M-1,1L0,0L1,1","size":400,"filled":false,"stroke":"#999999","strokeWidth":2,"opacity":1}},
{"data":{"values":[{"t":1676897858712,"p":56.88}]},"mark":{"type":"point","shape":"M-1,-1L0,0L-1,1","size":400,"filled":false,"stroke":"#999999","strokeWidth":2,"opacity":1}},
{"data":{"values":[{"t":1677168953760,"p":64.64,"p2":33.75}]},"mark":{"type":"rule","color":"#b9d5fb","strokeWidth":2},"encoding":{"y2":{"field":"p2"}}},
{"data":{"values":[{"t":1677095186400,"t2":1677168953760,"p":53.58}]},"mark":{"type":"rule","color":"#3b82f6","strokeWidth":2,"strokeDash":[3,2]},"encoding":{"x2":{"field":"t2"}}},
{"data":{"values":[{"t":1677168953760,"t2":1677305423376,"p":64.63,"p2":63.03},{"t":1677168953760,"t2":1677305423376,"p":50.74,"p2":49.14},{"t":1676460787104,"t2":1676866507584,"p":49.22,"p2":47.17},{"t":1676501359152,"t2":1676706063576,"p":29.56,"p2":27.82},{"t":1676792740224,"t2":1676997444648,"p":29.56,"p2":27.82}]},"mark":{"type":"rect","color":"#999999","cornerRadius":3},"encoding":{"x2":{"field":"t2"},"y2":{"field":"p2"}}},
{"data":{"values":[{"t":1677168953760,"t2":1677287000000,"p":54.37,"p2":52.82}]},"mark":{"type":"rect","color":"#3b82f6","cornerRadius":3},"encoding":{"x2":{"field":"t2"},"y2":{"field":"p2"}}},
{"data":{"values":[{"t":1677187395600,"p":63.82,"s":"63.8156"},{"t":1677187395600,"p":49.95,"s":"50.1829"},{"t":1677187395600,"p":53.58,"s":"53.58"}]},"mark":{"type":"text","font":"Noto Sans","fontSize":17,"color":"#ffffff","align":"left","baseline":"middle"},"encoding":{"text":{"field":"s"}}},
{"data":{"values":[{"t":1676663647344,"p":48.19,"s":"27.17%, 13.6327"}]},"mark":{"type":"text","font":"Noto Sans","fontSize":24.5,"color":"#ffffff","align":"center","baseline":"middle"},"encoding":{"text":{"field":"s"}}},
{"data":{"values":[{"t":1676603711364,"p":28.69,"s":"10:00 17/02"},{"t":1676895092436,"p":28.69,"s":"14:00 20/02"}]},"mark":{"type":"text","font":"Noto Sans","fontSize":16.5,"color":"#ffffff","align":"center","baseline":"middle"},"encoding":{"text":{"field":"s"}}},
{"data":{"values":[{"t":1673119125696,"p":30.84,"s":"D"}]},"mark":{"type":"text","font":"Noto Sans","fontSize":26,"color":"#0b1426","align":"center","baseline":"middle"},"encoding":{"text":{"field":"s"}}},
{"data":{"values":[{"t":1673006630472,"p":33.44,"s":"V"}]},"mark":{"type":"text","font":"Noto Sans","fontSize":26,"color":"#0b1426","align":"right","baseline":"middle"},"encoding":{"text":{"field":"s"}}},
{"data":{"values":[{"t":1677122000000,"t2":1677306000000,"p":68.24,"p2":65.32}]},"mark":{"type":"rect","color":"#dbe9fd","cornerRadius":4},"encoding":{"x2":{"field":"t2"},"y2":{"field":"p2"}}},
{"data":{"values":[{"t":1677205837440,"p":66.78}]},"mark":{"type":"point","shape":"M-1.04,.2L-.692,0L-.552,.24L-.448,.18L-.588,-.06L-.344,-.2L-.204,.04L-.1,-.02L-.24,-.26L0,-.4L.14,-.16L.248,-.22L.108,-.46L.352,-.6L.492,-.36L.596,-.42L.456,-.66L.7,-.8L1.04,-.2L-.7,.8Z","size":1600,"filled":true,"fill":"#3b82f6","opacity":1,"stroke":null}},
{"data":{"values":[{"t":1677279604800,"p":27.23}]},"mark":{"type":"point","shape":"M-1,1L.6,-1M.2,1L.9,.1","size":400,"filled":false,"stroke":"#a0a0a0","strokeWidth":2.5,"opacity":1}},
{"data":{"values":[{"t":1673033371140,"p":66.83}]},"mark":{"type":"point","shape":"M7.14.94c.04-.3.06-.61.06-.94 0-.32-.02-.64-.07-.94l2.03-1.58c.18-.14.23-.41.12-.61l-1.92-3.32c-.12-.22-.37-.29-.59-.22l-2.39.96c-.5-.38-1.03-.7-1.62-.94l-.36-2.54c-.04-.24-.24-.41-.48-.41h-3.84c-.24 0-.43.17-.47.41l-.36 2.54c-.59.24-1.13.57-1.62.94l-2.39-.96c-.22-.08-.47 0-.59.22L-9.26-3.13c-.12.21-.08.47.12.61l2.03 1.58c-.05.3-.09.63-.09.94s.02.64.07.94l-2.03 1.58c-.18.14-.23.41-.12.61l1.92 3.32c.12.22.37.29.59.22l2.39-.96c.5.38 1.03.7 1.62.94l.36 2.54c.05.24.24.41.48.41h3.84c.24 0 .44-.17.47-.41l.36-2.54c.59-.24 1.13-.56 1.62-.94l2.39.96c.22.08.47 0 .59-.22l1.92-3.32c.12-.22.07-.47-.12-.61l-2.01-1.58zM0 3.6c-1.98 0-3.6-1.62-3.6-3.6s1.62-3.6 3.6-3.6 3.6 1.62 3.6 3.6-1.62 3.6-3.6 3.6z","size":11.6,"filled":true,"fill":"#0b1426","opacity":1,"stroke":null}},
{"data":{"values":[{"t":1673203958160,"p":66.83}]},"mark":{"type":"point","shape":"M-9 5v2h6v-2H-9zM-9-7v2h10v-2H-9zm10 16v-2h8v-2h-8v-2h-2v6h2zM-5-3v2h-4v2h4v2h2V-3H-5zm14 4v-2H-1v2h10zm-6-4h2V-5h4v-2h-4V-9h-2v6z","size":10.2,"filled":true,"fill":"#0b1426","opacity":1,"stroke":null}},
{"data":{"values":[{"t":1673373623088,"p":66.78}]},"mark":{"type":"point","shape":"M-14-12H-11V-15H-8V-12H8V-15H11V-12H14V15H-14ZM-11-4V12H11V-4ZM-7-1H-3V2H-7ZM-2-1H2V2H-2ZM3-1H7V2H3ZM-7 5H-3V8H-7ZM-2 5H2V8H-2ZM3 5H7V8H3Z","size":4,"filled":true,"fill":"#0b1426","opacity":1,"stroke":null}},
{"data":{"values":[{"t":1673543288016,"p":66.83}]},"mark":{"type":"point","shape":"circle","size":660,"filled":false,"stroke":"#0b1426","strokeWidth":3,"opacity":1}},
{"data":{"values":[{"t":1673543288016,"p":66.83}]},"mark":{"type":"point","shape":"M0-9V0L7 5","size":4,"filled":false,"stroke":"#0b1426","strokeWidth":3,"opacity":1}}
]},
{"data":{"values":[{"t":1673135723352,"t2":1677168953760,"d":-63772},{"t":1677168953760,"d":4650,"d2":-63772}]},
"layer":[{"transform":[{"filter":"datum.t2"}],"mark":{"type":"rule","color":"#b9d5fb","strokeWidth":2},"encoding":{"x2":{"field":"t2"}}},
{"transform":[{"filter":"datum.d2"}],"mark":{"type":"rule","color":"#b9d5fb","strokeWidth":2},"encoding":{"y2":{"field":"d2"}}}],
"encoding":{"x":{"field":"t","type":"temporal","scale":{"type":"utc","domain":[1673001097920,1677320176848]},"axis":null},
"y":{"field":"d","type":"quantitative","scale":{"domain":[-129561,674000],"nice":false,"zero":false},"axis":null}}}
],
"resolve":{"scale":{"x":"independent","y":"independent"},"axis":{"x":"independent","y":"independent"}}}
